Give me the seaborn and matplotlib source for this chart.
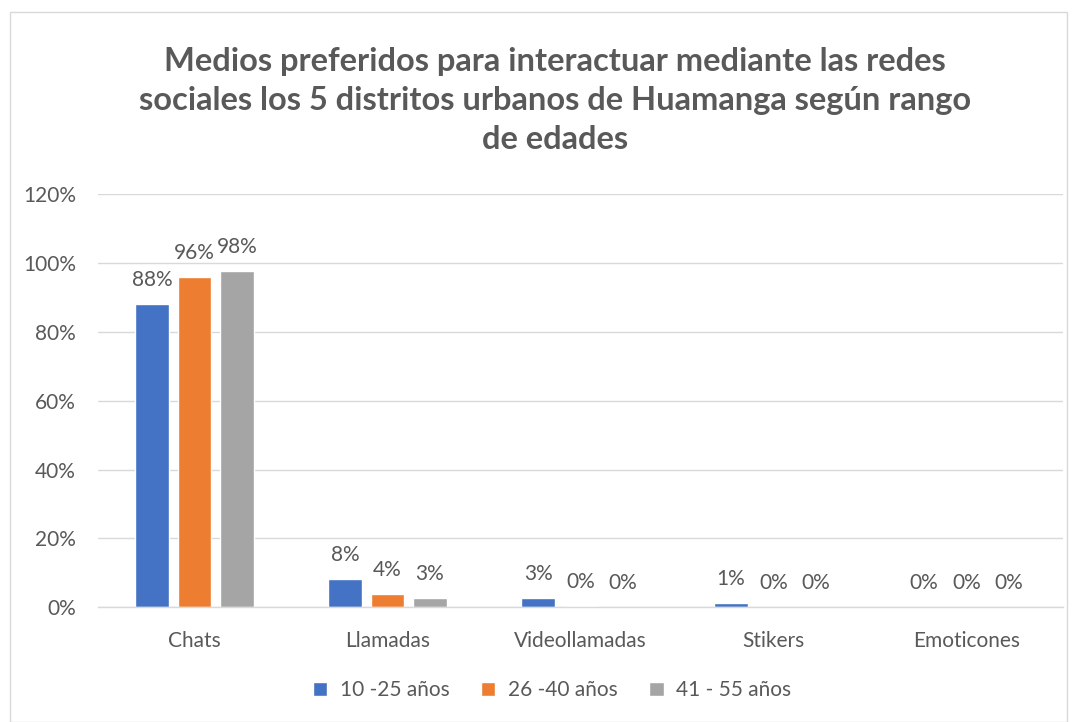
import matplotlib
matplotlib.use("Agg")
import matplotlib.pyplot as plt
import seaborn as sns
import pandas as pd
from matplotlib.patches import Rectangle

categories = ["Chats", "Llamadas", "Videollamadas", "Stikers", "Emoticones"]
series_names = ["10 -25 años", "26 -40 años", "41 - 55 años"]
v_10_25 = [0.88, 0.081, 0.026, 0.012, 0.0]
v_26_40 = [0.96, 0.038, 0.003, 0.0, 0.0]
v_41_55 = [0.977, 0.026, 0.0, 0.0, 0.0]
colors = ["#4472C4", "#ED7D31", "#A5A5A5"]
title = "Medios preferidos para interactuar mediante las redes\nsociales los 5 distritos urbanos de Huamanga según rango\nde edades"

rows = []
for name, vals in zip(series_names, [v_10_25, v_26_40, v_41_55]):
    for c, v in zip(categories, vals):
        rows.append({"cat": c, "serie": name, "val": v})
df = pd.DataFrame(rows)

sns.set_theme(style="white")
plt.rcParams["font.family"] = ["Lato", "DejaVu Sans"]
txt = "#595959"
fs = 15

fig = plt.figure(figsize=(10.77, 7.22), dpi=100)
ax = fig.add_axes([0.091, 0.159, 0.896, 0.572])
sns.barplot(data=df, x="cat", y="val", hue="serie", order=categories,
            hue_order=series_names, palette=colors, width=0.66, gap=0.2,
            saturation=1, ax=ax, legend=True)

ax.set_ylim(0, 1.2)
ax.set_xlim(-0.5, 4.5)
ax.set_yticks([0, 0.2, 0.4, 0.6, 0.8, 1.0, 1.2])
ax.set_yticklabels([f"{int(round(t*100))}%" for t in ax.get_yticks()], color=txt, fontsize=fs)
ax.tick_params(axis="x", colors=txt, labelsize=fs, length=0, pad=17)
ax.tick_params(axis="y", length=0, pad=16)
ax.set_xlabel("")
ax.set_ylabel("")
ax.yaxis.grid(True, color="#D9D9D9", linewidth=1)
ax.set_axisbelow(True)
for s in ["top", "right", "left"]:
    ax.spines[s].set_visible(False)
ax.spines["bottom"].set_color("#D9D9D9")
ax.spines["bottom"].set_linewidth(1)

for cont in ax.containers:
    ax.bar_label(cont, labels=[f"{v*100:.0f}%" for v in cont.datavalues],
                 padding=10, color=txt, fontsize=fs)

handles, labels = ax.get_legend_handles_labels()
ax.legend_.remove()
fig.legend(handles, labels, loc="center", bbox_to_anchor=(0.5125, 0.044), ncol=3,
           frameon=False, fontsize=fs, labelcolor=txt, handlelength=0.7,
           handleheight=0.7, columnspacing=1.5, handletextpad=0.6)

fig.text(0.515, 0.861, title, ha="center", va="center", fontsize=23.5,
         fontweight="bold", color=txt, linespacing=1.42)

fig.patches.append(Rectangle((0.009, 0.0), 0.982, 0.983, transform=fig.transFigure,
                             fill=False, edgecolor="#D9D9D9", linewidth=1))

fig.savefig("out.png", dpi=100)
